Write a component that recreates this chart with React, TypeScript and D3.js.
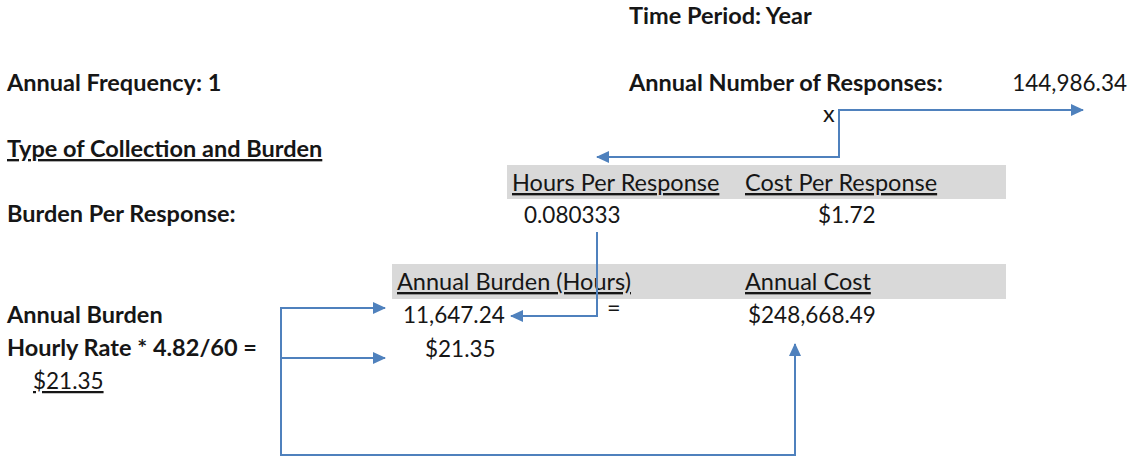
import React from 'react';
import * as d3 from 'd3';

// values shown in the worksheet
const periodLabels = ['Time Period: Year', 'Annual Frequency: 1'];
const annualResponses = [144986.34];
const perResponseHeaders = ['Hours Per Response', 'Cost Per Response'];
const perResponseValues = [0.080333, 1.72];
const annualHeaders = ['Annual Burden (Hours)', 'Annual Cost'];
const annualValues = [11647.24, 248668.49];
const hourlyRate = [21.35];
const rowLabels = ['Annual Number of Responses:', 'Type of Collection and Burden', 'Burden Per Response:', 'Annual Burden', 'Hourly Rate * 4.82/60 ='];

const W = 1132;
const H = 460;
const FONT = 'Lato, "Open Sans", sans-serif';
const BLUE = '#4f81bd';
const INK = '#161616';

const num = d3.format(',.2f');
const money = (v: number) => '$' + d3.format(',.2f')(v);

const App = () => {
  const line = d3.line();

  // column positions of the two grey tables
  const col1 = d3.scaleOrdinal<string, number>().domain(perResponseHeaders).range([512, 745]);
  const col2 = d3.scaleOrdinal<string, number>().domain(annualHeaders).range([397, 745]);

  const connectors: { pts: [number, number][]; start: boolean }[] = [
    { pts: [[597, 157], [839, 157], [839, 110], [1083, 110]], start: true },
    { pts: [[597, 232], [597, 316], [511, 316]], start: false },
    { pts: [[385, 308], [281, 308], [281, 455], [795, 455], [795, 344]], start: true },
    { pts: [[281, 358], [385, 358]], start: false },
  ];

  const bold = { fontFamily: FONT, fontWeight: 700, fontSize: 23.5, fill: INK };
  const reg = { fontFamily: FONT, fontWeight: 400, fontSize: 23.5, fill: INK };
  // digits in Lato run a bit wider, so the value cells use a slightly smaller size
  const val = { ...reg, fontSize: 22.5 };

  return (
    <svg width={W} height={H} style={{ position: 'absolute', left: 0, top: 0, background: '#fff' }}>
      <defs>
        <marker id="ah" viewBox="0 0 13 12" refX="12" refY="6" markerWidth="13" markerHeight="12"
          markerUnits="userSpaceOnUse" orient="auto-start-reverse">
          <path d="M0,0 L13,6 L0,12 z" fill={BLUE} />
        </marker>
      </defs>

      <rect x={507} y={165} width={499} height={34} fill="#d9d9d9" />
      <rect x={392} y={264} width={614} height={35} fill="#d9d9d9" />

      <text x={629} y={24} {...bold}>{periodLabels[0]}</text>
      <text x={7} y={91} {...bold}>{periodLabels[1]}</text>
      <text x={629} y={91} {...bold}>{rowLabels[0]}</text>
      <text x={1127} y={91} textAnchor="end" {...val}>{num(annualResponses[0])}</text>
      <text x={823} y={122} {...reg}>x</text>
      <text x={7} y={157} textDecoration="underline" {...bold}>{rowLabels[1]}</text>
      <text x={7} y={222} {...bold}>{rowLabels[2]}</text>
      <text x={7} y={323} {...bold}>{rowLabels[3]}</text>
      <text x={7} y={356} {...bold}>{rowLabels[4]}</text>
      <text x={33} y={389} textDecoration="underline" {...val}>{money(hourlyRate[0])}</text>

      {perResponseHeaders.map((h) => (
        <text key={h} x={col1(h)} y={191} textDecoration="underline" {...reg}>{h}</text>
      ))}
      <text x={524} y={223} {...val}>{perResponseValues[0].toFixed(6)}</text>
      <text x={818} y={223} {...val}>{money(perResponseValues[1])}</text>

      {annualHeaders.map((h) => (
        <text key={h} x={col2(h)} y={290} textDecoration="underline" {...reg}>{h}</text>
      ))}
      <text x={403} y={323} {...val}>{num(annualValues[0])}</text>
      <text x={607} y={316} {...reg}>=</text>
      <text x={748} y={323} {...val}>{money(annualValues[1])}</text>
      <text x={425} y={357} {...val}>{money(hourlyRate[0])}</text>

      {connectors.map((c, i) => (
        <path key={i} d={line(c.pts) || ''} fill="none" stroke={BLUE} strokeWidth={2}
          markerEnd="url(#ah)" markerStart={c.start ? 'url(#ah)' : undefined} />
      ))}
    </svg>
  );
};

export default App;
